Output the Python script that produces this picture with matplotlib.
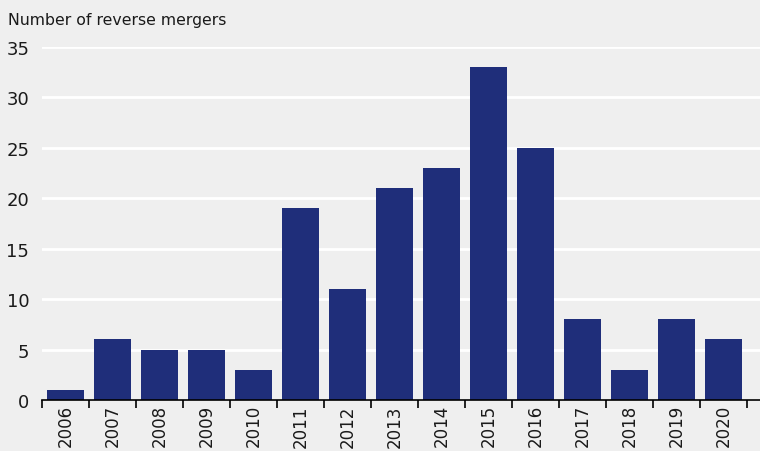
import matplotlib.pyplot as plt
import numpy as np

years = ['2006', '2007', '2008', '2009', '2010', '2011', '2012', '2013',
         '2014', '2015', '2016', '2017', '2018', '2019', '2020']
mergers = [1, 6, 5, 5, 3, 19, 11, 21, 23, 33, 25, 8, 3, 8, 6]

bg = '#efefef'
navy = '#1f2e7a'
txt = '#1a1a1a'

fig = plt.figure(figsize=(7.6, 4.52), dpi=100, facecolor=bg)
ax = fig.add_axes([0.055, 0.1128, 0.945, 0.781], facecolor=bg)

x = np.arange(len(years))
ax.bar(x, mergers, width=0.8, color=navy, zorder=3)

ax.set_xlim(-0.5, 14.78)
ax.set_ylim(0, 35)
ax.set_yticks(np.arange(0, 36, 5))
ax.yaxis.grid(True, color='white', linewidth=2, zorder=0)
ax.tick_params(axis='y', length=0, labelsize=13, pad=9, labelcolor=txt)

# year labels under the bars, small ticks between bars
ax.set_xticks(x)
ax.set_xticklabels(years, rotation=90, fontsize=12, color=txt)
ax.set_xticks(np.arange(-0.5, 15, 1), minor=True)
ax.tick_params(axis='x', which='major', length=0, pad=3)
ax.tick_params(axis='x', which='minor', length=6, width=1.2, direction='out')

for s in ['left', 'right', 'top']:
    ax.spines[s].set_visible(False)
ax.spines['bottom'].set_linewidth(1.2)
ax.spines['bottom'].set_zorder(4)

fig.text(0.011, 0.955, 'Number of reverse mergers', fontsize=11.3, va='center', ha='left', color=txt)

fig.savefig('out.png', dpi=100, facecolor=bg)
